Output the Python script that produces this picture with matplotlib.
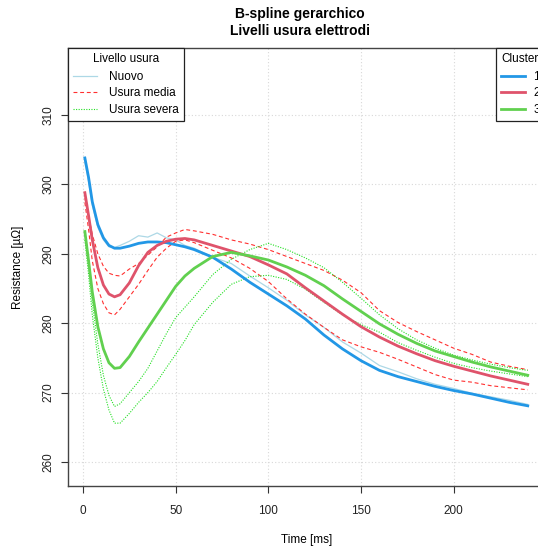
"""B-spline gerarchico: curve di resistenza per livello di usura elettrodi."""

import matplotlib

matplotlib.use("Agg")
import matplotlib.pyplot as plt
from matplotlib.lines import Line2D

plt.rcParams["font.family"] = ["Liberation Sans", "DejaVu Sans"]

# time grid [ms]
time_ms = [1, 3, 5, 8, 11, 14, 17, 20, 25, 30, 35, 40, 45, 50, 55, 60, 70, 80,
           90, 100, 110, 120, 130, 140, 150, 160, 170, 180, 190, 200, 210, 220,
           230, 240]

# cluster mean curves (thick)
cluster_1 = [303.8, 301.0, 297.5, 294.2, 292.3, 291.2, 290.8, 290.8, 291.1, 291.5,
             291.7, 291.7, 291.6, 291.3, 291.0, 290.6, 289.5, 287.8, 285.9, 284.2,
             282.5, 280.6, 278.3, 276.3, 274.6, 273.2, 272.3, 271.6, 270.9, 270.3,
             269.8, 269.2, 268.6, 268.1]
cluster_2 = [298.8, 295.5, 292.0, 288.0, 285.5, 284.2, 283.8, 284.1, 285.8, 288.3,
             290.2, 291.2, 291.8, 292.1, 292.2, 292.0, 291.2, 290.4, 289.6, 288.4,
             287.1, 285.1, 283.2, 281.3, 279.5, 278.0, 276.7, 275.6, 274.6, 273.8,
             273.1, 272.4, 271.8, 271.2]
cluster_3 = [293.2, 289.0, 284.5, 279.5, 276.3, 274.3, 273.5, 273.6, 275.2, 277.3,
             279.3, 281.3, 283.3, 285.3, 286.8, 287.9, 289.6, 290.2, 289.7, 289.1,
             288.1, 286.9, 285.4, 283.5, 281.7, 279.9, 278.4, 277.1, 276.0, 275.2,
             274.4, 273.7, 273.1, 272.5]

# single electrode curves (thin)
nuovo = [303.2, 300.4, 297.0, 293.8, 292.0, 291.0, 290.9, 291.2, 291.8, 292.6,
         292.4, 293.0, 292.3, 292.0, 291.2, 290.8, 289.5, 288.6, 286.8, 285.1,
         283.3, 281.2, 279.4, 277.3, 275.7, 273.9, 273.0, 272.0, 271.2, 270.6,
         269.9, 269.4, 268.9, 268.3]
media_a = [298.0, 295.5, 292.8, 290.0, 288.2, 287.2, 286.9, 286.8, 287.8, 288.6,
           289.8, 291.0, 292.4, 293.0, 293.5, 293.3, 292.8, 292.0, 291.4, 290.6,
           289.6, 288.6, 287.6, 286.2, 284.4, 281.8, 280.1, 278.8, 277.6, 276.4,
           275.5, 274.4, 273.8, 273.3]
media_b = [297.4, 293.5, 289.0, 285.0, 282.8, 281.5, 281.2, 282.0, 283.8, 285.6,
           287.6, 289.5, 290.8, 291.8, 292.0, 291.6, 290.5, 289.4, 287.9, 286.0,
           283.5, 281.3, 279.4, 277.6, 276.6, 275.8, 274.8, 273.7, 272.6, 271.8,
           271.5, 271.0, 270.7, 270.4]
severa_a = [292.9, 288.5, 283.0, 277.0, 272.5, 269.6, 268.0, 268.4, 270.0, 271.6,
            273.5, 276.0, 278.5, 280.8, 282.3, 283.8, 287.0, 289.2, 290.6, 291.5,
            290.6, 289.4, 288.0, 285.9, 283.6, 281.2, 279.2, 277.6, 276.4, 275.4,
            274.7, 274.1, 273.6, 273.2]
severa_b = [292.0, 287.0, 281.2, 275.0, 270.5, 267.5, 265.6, 265.6, 267.0, 268.6,
            270.0, 271.6, 273.6, 275.5, 277.5, 279.8, 283.0, 285.6, 286.7, 286.9,
            286.3, 284.9, 283.0, 281.2, 279.8, 278.7, 277.2, 276.1, 275.1, 274.2,
            273.6, 273.1, 272.7, 272.3]

x_ticks = [0, 50, 100, 150, 200]
y_ticks = [260, 270, 280, 290, 300, 310]

COL_BLUE = "#2297E6"
COL_RED = "#DF536B"
COL_GREEN = "#61D04F"
COL_THIN_BLUE = "#ADD8E6"
COL_THIN_RED = "#FF3030"
COL_THIN_GREEN = "#22E022"
DASHED = (0, (3.5, 2.5))
DOTTED = (0, (1, 1.3))


def main() -> None:
    fig = plt.figure(figsize=(5.38, 5.46), dpi=100)
    ax = fig.add_axes([0.1264, 0.1099, 0.8866, 0.8022])

    ax.plot(time_ms, nuovo, color=COL_THIN_BLUE, linewidth=0.9)
    for s in (media_a, media_b):
        ax.plot(time_ms, s, color=COL_THIN_RED, linewidth=0.8, linestyle=DASHED)
    for s in (severa_a, severa_b):
        ax.plot(time_ms, s, color=COL_THIN_GREEN, linewidth=0.8, linestyle=DOTTED)

    ax.plot(time_ms, cluster_1, color=COL_BLUE, linewidth=2.0)
    ax.plot(time_ms, cluster_2, color=COL_RED, linewidth=2.0)
    ax.plot(time_ms, cluster_3, color=COL_GREEN, linewidth=2.0)

    ax.set_xlim(-8.1, 249.3)
    ax.set_ylim(256.55, 319.64)
    ax.set_xticks(x_ticks)
    ax.set_yticks(y_ticks)
    ax.set_yticklabels([str(v) for v in y_ticks], rotation=90, va="center")
    ax.tick_params(direction="out", length=5, width=0.8, colors="#333333",
                   labelsize=8.5, labelcolor="#222222")
    ax.tick_params(axis="x", pad=9)
    ax.tick_params(axis="y", pad=5)
    ax.grid(color="#D8D8D8", linestyle=(0, (1, 2)), linewidth=0.8)
    ax.set_axisbelow(True)
    for sp in ax.spines.values():
        sp.set_color("#444444")
        sp.set_linewidth(1.0)

    ax.set_xlabel("Time [ms]", fontsize=8.5, labelpad=12)
    ax.set_ylabel("Resistance [µΩ]", fontsize=8.5, labelpad=13)
    fig.text(300 / 538, 1 - 22.5 / 546, "B-spline gerarchico\nLivelli usura elettrodi",
             fontsize=10, fontweight="bold", ha="center", va="center",
             linespacing=1.3)

    usura = [
        Line2D([], [], color=COL_THIN_BLUE, linewidth=0.9),
        Line2D([], [], color=COL_THIN_RED, linewidth=0.8, linestyle=DASHED),
        Line2D([], [], color=COL_THIN_GREEN, linewidth=0.8, linestyle=DOTTED),
    ]
    leg1 = ax.legend(usura, ["Nuovo", "Usura media", "Usura severa"],
                     title="Livello usura", loc="upper left",
                     bbox_to_anchor=(0.0, 1.0), fontsize=8.5, title_fontsize=8.5,
                     frameon=True, fancybox=False, framealpha=1,
                     edgecolor="#222222", borderpad=0.45, labelspacing=0.38,
                     handlelength=2.0, handletextpad=1.0, borderaxespad=0)
    leg1.get_frame().set_linewidth(0.9)
    leg1._legend_box.sep = 4
    ax.add_artist(leg1)

    clusters = [Line2D([], [], color=c, linewidth=2.0)
                for c in (COL_BLUE, COL_RED, COL_GREEN)]
    leg2 = ax.legend(clusters, ["1", "2", "3"], title="Cluster",
                     loc="upper right", bbox_to_anchor=(1.0, 1.0), fontsize=8.5,
                     title_fontsize=8.5, frameon=True, fancybox=False,
                     framealpha=1, edgecolor="#222222", borderpad=0.45,
                     labelspacing=0.38, handlelength=2.0, handletextpad=0.7,
                     borderaxespad=0)
    leg2.get_frame().set_linewidth(0.9)
    leg2._legend_box.sep = 4

    fig.savefig("out.png", dpi=100)
    plt.close(fig)


if __name__ == "__main__":
    main()
